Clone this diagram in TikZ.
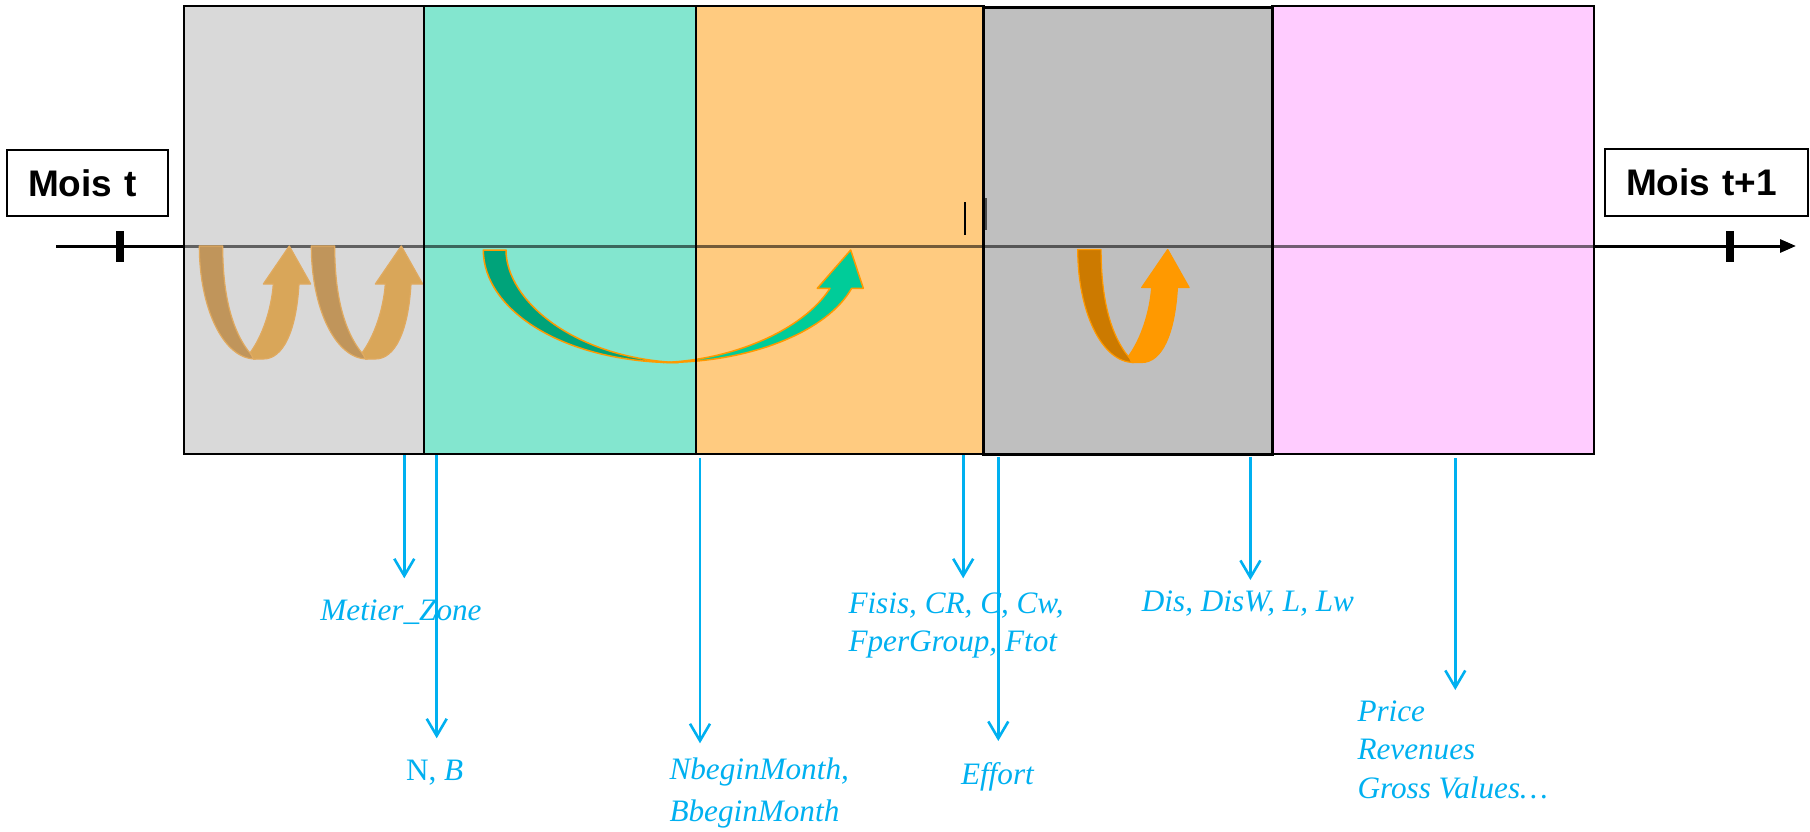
\documentclass[tikz,border=0pt]{standalone}
\usepackage{fontspec}
\setmainfont{Liberation Serif}
\newfontfamily\headfont{Liberation Sans}
\usetikzlibrary{arrows.meta}

% stage colours
\definecolor{stageA}{RGB}{217,217,217}
\definecolor{stageB}{RGB}{131,230,207}
\definecolor{stageC}{RGB}{255,203,128}
\definecolor{stageD}{RGB}{191,191,191}
\definecolor{stageE}{RGB}{255,204,255}
% loop arrows
\definecolor{tanback}{RGB}{192,149,91}
\definecolor{tanfront}{RGB}{217,166,89}
\definecolor{tanedge}{RGB}{224,170,96}
\definecolor{tealback}{RGB}{0,163,122}
\definecolor{tealfront}{RGB}{0,204,153}
\definecolor{orgback}{RGB}{204,122,0}
\definecolor{orgfront}{RGB}{255,153,0}
% output variables
\definecolor{varblue}{RGB}{0,176,240}

\tikzset{
  stagebox/.style={fill=#1, inner sep=0pt, outer sep=0pt, anchor=north west},
  stageedge/.style={draw=black, line width=2pt},
  monthbox/.style={draw=black, line width=2pt, inner xsep=21pt, inner ysep=0pt,
    minimum height=66pt, align=left,
    font=\headfont\bfseries\fontsize{37}{40}\selectfont},
  outvar/.style={text=varblue, inner sep=0pt, align=left,
    font=\itshape\fontsize{31.2}{39}\selectfont},
  varlink/.style={draw=varblue, line width=2.6pt,
    -{Straight Barb[length=17pt,width=20pt,line width=2.6pt]}},
  timeaxis/.style={line width=3pt},
  % narrow U-turn arrow inside one stage
  pics/uturn/.style n args={3}{code={
    \filldraw[fill=#1, draw=#3, line width=1.2pt, line join=round]
      (0,0) -- (23.4,0) .. controls (23.4,55) and (35,92) .. (56,113)
      .. controls (24,113) and (0,62) .. (0,0) -- cycle;
    \filldraw[fill=#2, draw=#3, line width=1.2pt, line join=round]
      (51,106.5) .. controls (63,90) and (72,64) .. (74,38) -- (64,38)
      -- (90,0) -- (111.4,38) -- (99.7,38)
      .. controls (97,85) and (84,113) .. (64,113) -- (54,113) -- cycle;
  }},
  % wide arrow spanning two stages
  pics/longturn/.style n args={3}{code={
    \filldraw[fill=#1, draw=#3, line width=1.5pt, line join=round]
      (0,0) -- (22.7,0) .. controls (22.7,50) and (90,108) .. (195,112.7)
      .. controls (80,112.7) and (0,60) .. (0,0) -- cycle;
    \filldraw[fill=#2, draw=#3, line width=1.5pt, line join=round]
      (180,112.5) .. controls (270,112.7) and (345,80) .. (368.3,38.3)
      -- (380,38.3) -- (367.4,0) -- (334,38.3) -- (346.7,38.3)
      .. controls (320,80) and (250,110) .. (180,112.5) -- cycle;
  }},
}

\begin{document}
\begin{tikzpicture}[x=1pt, y=-1pt]
\useasboundingbox (0,0) rectangle (1810,832);

% time axis from month t to month t+1
\coordinate (axisL) at (56,246);
\coordinate (axisR) at (1796,246);
\draw[timeaxis, -{Triangle[length=16pt,width=13pt]}] (axisL) -- (axisR);

% stages of the month
\node[stagebox=stageA, minimum width=239.5pt, minimum height=447.6pt] (s1) at (184.2,6) {};
\node[stagebox=stageB, minimum width=272.3pt, minimum height=447.6pt] (s2) at (423.7,6) {};
\node[stagebox=stageC, minimum width=287.7pt, minimum height=447.6pt] (s3) at (696,6) {};
\node[stagebox=stageD, minimum width=288.5pt, minimum height=446.5pt] (s4) at (983.7,7.5) {};
\node[stagebox=stageE, minimum width=321.3pt, minimum height=447.6pt] (s5) at (1272.2,6) {};

% axis seen through the stages
\draw[timeaxis, draw opacity=0.55] (s1.west |- axisL) -- (s5.east |- axisL);

% month ticks
\draw[line width=8pt] (120,231) -- (120,262);
\draw[line width=8pt] (1730,231) -- (1730,262);

% small marks near the stage boundary
\draw[line width=2pt] (965.3,202) -- (965.3,235);
\draw[line width=2pt, draw=black!70] (985.8,198) -- (985.8,230);

% loop arrows
\pic at (199.3,246) {uturn={tanback}{tanfront}{tanedge}};
\pic at (311.3,246) {uturn={tanback}{tanfront}{tanedge}};
\pic at (483.3,250) {longturn={tealback}{tealfront}{orgfront}};
\pic at (1077.7,249.5) {uturn={orgback}{orgfront}{orgfront}};

% stage outlines
\foreach \s in {s1,s2,s3,s5}
  \draw[stageedge] (\s.north west) rectangle (\s.south east);
\draw[stageedge, line width=3pt] (s4.north west) rectangle (s4.south east);

% month labels
\node[monthbox, text width=119pt] (mt) at (87.5,183) {Mois t};
\node[monthbox, text width=161pt] (mt1) at (1706.5,182.5) {Mois t+1};

% variables produced by each stage (multi-line labels sit on their last baseline)
\node[outvar, anchor=base] (vMZ) at (401,620) {Metier\_Zone};
\node[outvar, anchor=base] (vNB) at (434.7,780.7) {\upshape N, \itshape B};
\node[outvar, anchor=base west, font=\itshape\fontsize{31.2}{42.2}\selectfont] (vNb) at (669.3,821.7) {NbeginMonth,\\BbeginMonth};
\node[outvar, anchor=base west, font=\itshape\fontsize{31.2}{38.4}\selectfont] (vF) at (848.3,651.7) {Fisis, CR, C, Cw,\\FperGroup, Ftot};
\node[outvar, anchor=base] (vE) at (997.4,784) {Effort};
\node[outvar, anchor=base west] (vD) at (1141.7,611.7) {Dis, DisW, L, Lw};
\node[outvar, anchor=base west, font=\itshape\fontsize{31.2}{38.6}\selectfont] (vP) at (1357.3,798.3) {Price\\Revenues\\Gross Values…};

% links from stages to variables
\coordinate (aMZ) at (404.3,455);   \coordinate (bMZ) at (404.3,578.3);
\coordinate (aNB) at (436.7,455);   \coordinate (bNB) at (436.7,738.3);
\coordinate (aNb) at (700,458.3);   \coordinate (bNb) at (700,743.3);
\coordinate (aF)  at (963.2,455);   \coordinate (bF)  at (963.2,578.3);
\coordinate (aE)  at (998.3,456.7); \coordinate (bE)  at (998.3,741);
\coordinate (aD)  at (1250.4,456.7);\coordinate (bD)  at (1250.4,580);
\coordinate (aP)  at (1455.3,458.3);\coordinate (bP)  at (1455.3,690);
\foreach \v in {MZ,NB,Nb,F,E,D,P}
  \draw[varlink] (a\v) -- (b\v);
\end{tikzpicture}
\end{document}
